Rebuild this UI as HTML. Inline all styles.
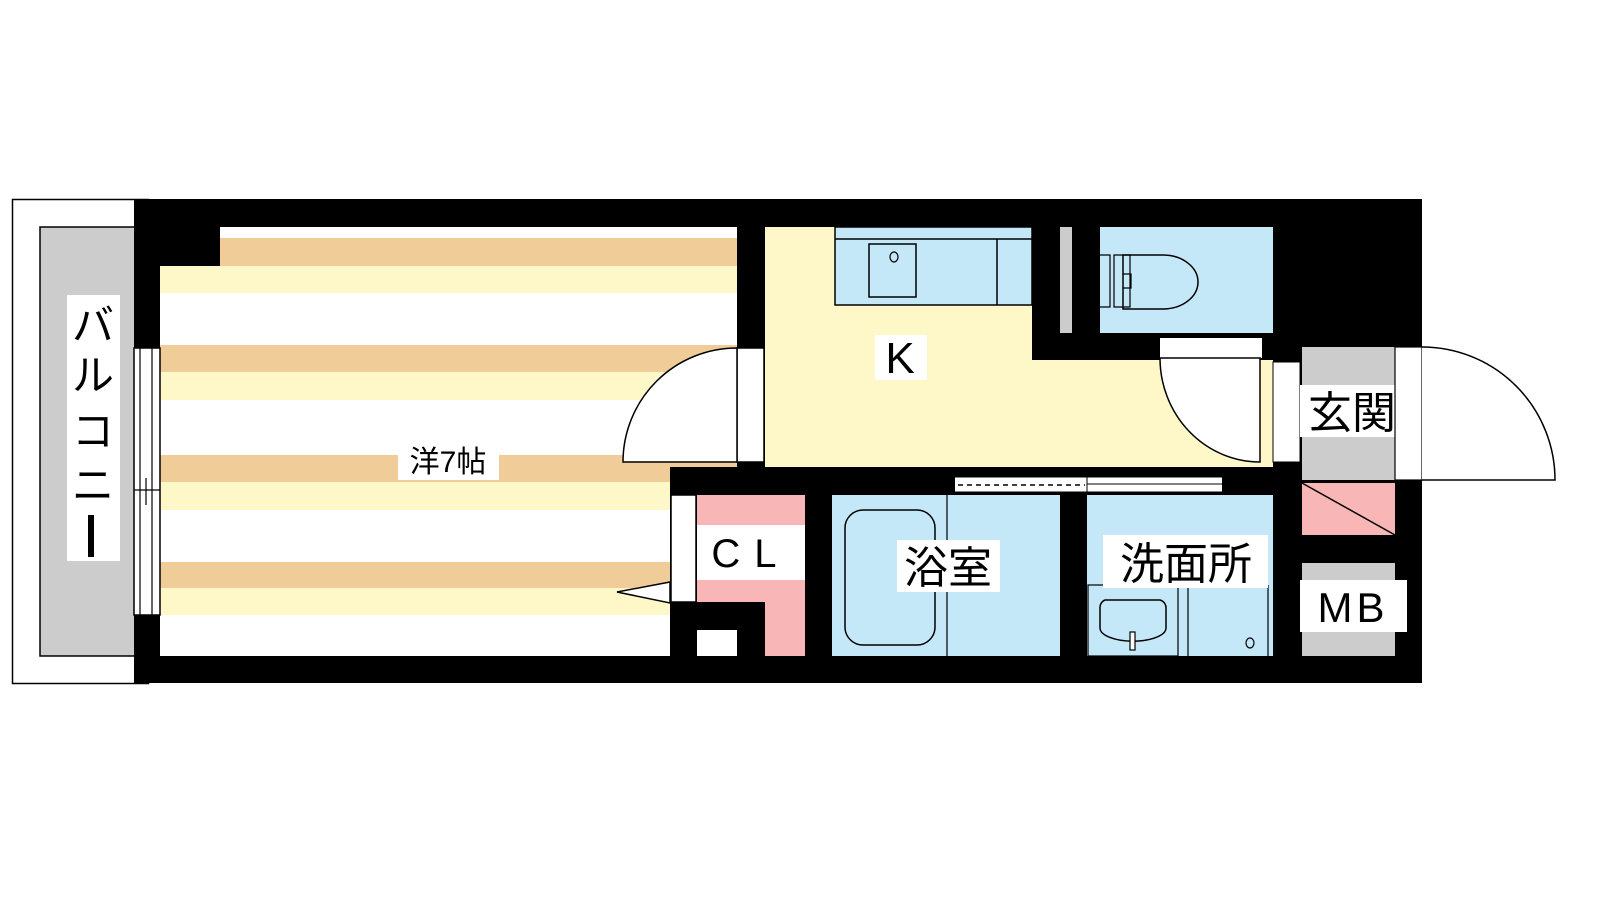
<!DOCTYPE html>
<html><head><meta charset="utf-8"><style>
html,body{margin:0;padding:0;background:#fff;}
svg{display:block}
text{font-family:"Liberation Sans","Noto Sans CJK JP",sans-serif;fill:#000}
</style></head><body>
<svg width="1600" height="900" viewBox="0 0 1600 900" xmlns="http://www.w3.org/2000/svg">
<!-- balcony -->
<rect x="12.5" y="199.5" width="136" height="484" fill="#fff" stroke="#000" stroke-width="1.5"/>
<rect x="40" y="227" width="96" height="429" fill="#ccc" stroke="#000" stroke-width="1.5"/>
<rect x="67" y="295" width="53" height="266" fill="#fff"/>
<text x="93" y="340" font-size="42" text-anchor="middle">バ</text>
<text x="93" y="390" font-size="42" text-anchor="middle">ル</text>
<text x="93" y="446" font-size="42" text-anchor="middle">コ</text>
<text x="93" y="500" font-size="42" text-anchor="middle">ニ</text>
<rect x="88" y="515" width="6" height="42" fill="#000"/>
<!-- building black -->
<rect x="134" y="199" width="1288" height="484" fill="#000"/>
<!-- western room -->
<rect x="160" y="227" width="577" height="429" fill="#fff"/>
<rect x="160" y="227" width="60" height="51" fill="#000"/>
<rect x="220" y="238" width="517" height="28" fill="#f0cd98"/>
<rect x="160" y="266" width="577" height="27" fill="#fef8c8"/>
<rect x="160" y="345" width="577" height="27" fill="#f0cd98"/>
<rect x="160" y="372" width="577" height="28" fill="#fef8c8"/>
<rect x="160" y="455" width="577" height="27" fill="#f0cd98"/>
<rect x="160" y="482" width="577" height="28" fill="#fef8c8"/>
<rect x="160" y="562" width="577" height="26" fill="#f0cd98"/>
<rect x="160" y="588" width="577" height="27" fill="#fef8c8"/>
<rect x="398" y="440" width="101" height="40" fill="#fff"/>
<text x="448" y="472" font-size="30" text-anchor="middle">洋7帖</text>
<!-- left window -->
<rect x="134" y="348" width="26" height="267" fill="#fff" stroke="#000" stroke-width="1.5"/>
<line x1="140" y1="348" x2="140" y2="615" stroke="#000" stroke-width="1.2"/>
<line x1="152" y1="348" x2="152" y2="615" stroke="#000" stroke-width="1.2"/>
<line x1="134" y1="490" x2="160" y2="490" stroke="#000" stroke-width="1.2"/>
<line x1="146" y1="478" x2="146" y2="505" stroke="#000" stroke-width="1.2"/>
<!-- CL area -->
<rect x="670" y="467" width="160" height="216" fill="#000"/>
<rect x="697" y="495" width="108" height="161" fill="#f8b6b6"/>
<rect x="697" y="602" width="68" height="54" fill="#000"/>
<rect x="697" y="630" width="40" height="26" fill="#fff"/>
<rect x="671" y="495" width="25" height="107" fill="#fff" stroke="#000" stroke-width="1.5"/>
<polygon points="670,582 617,592 670,603" fill="#fff" stroke="#000" stroke-width="1.5"/>
<rect x="697" y="525" width="108" height="55" fill="#fff"/>
<text x="751" y="567" font-size="40" text-anchor="middle" letter-spacing="14">CL</text>
<!-- kitchen -->
<rect x="765" y="227" width="508" height="240" fill="#fef8c8"/>
<rect x="1032" y="227" width="241" height="133" fill="#000"/>
<rect x="835" y="227" width="197" height="78" fill="#c4e8f8" stroke="#000" stroke-width="1.5"/>
<line x1="835" y1="239" x2="1032" y2="239" stroke="#000" stroke-width="1.5"/>
<line x1="997" y1="239" x2="997" y2="305" stroke="#000" stroke-width="1.5"/>
<rect x="869" y="244" width="47" height="53" fill="none" stroke="#000" stroke-width="1.5"/>
<ellipse cx="894" cy="257" rx="4" ry="5" fill="none" stroke="#000" stroke-width="1.2"/>
<rect x="875" y="335" width="52" height="45" fill="#fff"/>
<text x="900" y="373" font-size="44" text-anchor="middle">K</text>
<!-- left door into kitchen -->
<rect x="737" y="348" width="27" height="114" fill="#fff" stroke="#000" stroke-width="1.5"/>
<path d="M737,348 A114,114 0 0 0 623,462 L737,462 Z" fill="#fff" stroke="#000" stroke-width="1.5"/>
<!-- toilet -->
<rect x="1060" y="227" width="12" height="106" fill="#ccc"/>
<rect x="1100" y="227" width="173" height="106" fill="#c4e8f8"/>
<path d="M1100,255 h10 v52 h-10 M1114,255 v52 h16 v-52 z" fill="none" stroke="#000" stroke-width="1.2"/>
<path d="M1123,255 h40 a35,27 0 0 1 0,54 h-40 z" fill="none" stroke="#000" stroke-width="1.5"/>
<path d="M1123,274 h8 v14 h-8" fill="none" stroke="#000" stroke-width="1.2"/>
<rect x="1160" y="338" width="102" height="20" fill="#fff"/>
<path d="M1160,358 A100,104 0 0 0 1260,462 L1260,358 Z" fill="#fff" stroke="#000" stroke-width="1.5"/>
<rect x="1273" y="362" width="27" height="100" fill="#fff" stroke="#000" stroke-width="1"/>
<!-- genkan -->
<rect x="1302" y="347" width="93" height="133" fill="#ccc"/>
<rect x="1300" y="385" width="105" height="52" fill="#fff"/>
<text x="1352" y="428" font-size="44" text-anchor="middle">玄関</text>
<rect x="1395" y="347" width="27" height="133" fill="#fff" stroke="#000" stroke-width="1.2"/>
<path d="M1422,347 A133,133 0 0 1 1555,480 L1422,480" fill="#fff" stroke="#000" stroke-width="1.5"/>
<rect x="1302" y="483" width="93" height="52" fill="#f8b6b6"/>
<line x1="1302" y1="483" x2="1395" y2="535" stroke="#000" stroke-width="1.5"/>
<rect x="1302" y="563" width="93" height="93" fill="#ccc"/>
<rect x="1300" y="580" width="107" height="52" fill="#fff"/>
<text x="1353" y="622" font-size="42" text-anchor="middle" letter-spacing="4">MB</text>
<!-- sliding door -->
<rect x="955" y="477" width="267" height="15" fill="#fff"/>
<line x1="955" y1="477" x2="1222" y2="477" stroke="#000" stroke-width="1"/>
<line x1="955" y1="492" x2="1222" y2="492" stroke="#000" stroke-width="1"/>
<line x1="1087" y1="477" x2="1087" y2="492" stroke="#000" stroke-width="1"/>
<line x1="1087" y1="484" x2="1222" y2="484" stroke="#000" stroke-width="1"/>
<line x1="958" y1="485" x2="1085" y2="485" stroke="#000" stroke-width="1.5" stroke-dasharray="5,4"/>
<!-- bath -->
<rect x="832" y="495" width="228" height="161" fill="#c4e8f8"/>
<line x1="947" y1="495" x2="947" y2="656" stroke="#000" stroke-width="1.2"/>
<rect x="845" y="510" width="90" height="135" rx="18" fill="none" stroke="#000" stroke-width="1.5"/>
<rect x="897" y="540" width="103" height="52" fill="#fff"/>
<text x="948" y="583" font-size="44" text-anchor="middle">浴室</text>
<!-- wash -->
<rect x="1087" y="495" width="186" height="161" fill="#c4e8f8"/>
<rect x="1088" y="585" width="90" height="71" fill="none" stroke="#000" stroke-width="1.2"/>
<line x1="1188" y1="585" x2="1188" y2="656" stroke="#000" stroke-width="1.2"/>
<line x1="1268" y1="585" x2="1268" y2="656" stroke="#000" stroke-width="1.2"/>
<path d="M1105,600 h55 a8,8 0 0 1 6,8 v20 a30,12 0 0 1 -66,0 v-20 a8,8 0 0 1 5,-8z" fill="none" stroke="#000" stroke-width="1.5"/>
<rect x="1130" y="632" width="5" height="18" fill="#fff" stroke="#000" stroke-width="1.2"/>
<ellipse cx="1250" cy="643" rx="4" ry="5" fill="none" stroke="#000" stroke-width="1.2"/>
<rect x="1103" y="535" width="165" height="53" fill="#fff"/>
<text x="1186" y="579" font-size="44" text-anchor="middle">洗面所</text>
</svg>
</body></html>
